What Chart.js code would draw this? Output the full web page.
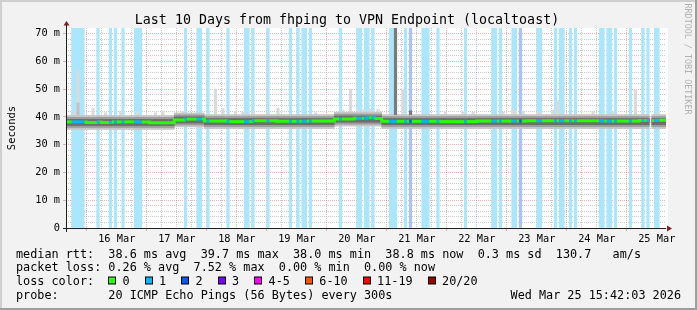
<!DOCTYPE html>
<html>
<head>
<meta charset="utf-8">
<script src="https://cdn.jsdelivr.net/npm/chart.js@4"></script>
<style>
html, body { margin: 0; padding: 0; background: #f2f2f2; }
canvas { display: block; }
</style>
</head>
<body>
<canvas id="graph" width="697" height="310"></canvas>
<script>
const title = 'Last 10 Days from fhping to VPN Endpoint (localtoast)'
const yAxisTitle = 'Seconds'
const watermark = 'RRDTOOL / TOBI OETIKER'

// time axis in hours since 15 Mar 00:00, graph covers 15 Mar 15:42 .. 25 Mar 15:42
const xStart = 15.7
const xEnd = 255.7
const dayLabels = ['16 Mar', '17 Mar', '18 Mar', '19 Mar', '20 Mar', '21 Mar', '22 Mar', '23 Mar', '24 Mar', '25 Mar']
const yTickLabels = ['0', '10 m', '20 m', '30 m', '40 m', '50 m', '60 m', '70 m']
const yMax = 72

// median rtt in ms, as runs (start hour -> value)
const medStart = [15, 24, 28, 30, 34, 49, 59, 63, 71, 80, 90, 100, 112, 123, 131, 136, 139, 142, 165, 180, 200, 230, 245, 252]
const medValue = [38.2, 38.0, 38.2, 38.0, 38.2, 37.9, 38.9, 39.2, 38.5, 38.3, 38.6, 38.4, 38.5, 39.2, 39.5, 39.7, 39.4, 38.4, 38.3, 38.5, 38.6, 38.5, 38.7, 38.8]

// hours with lost pings: start hour, number of hours, pings lost
const lossStart = [18, 28, 33, 35, 38, 43, 63, 68, 72, 80, 87, 90, 96, 105, 108, 110, 113, 125, 132, 135, 138, 145, 151, 153, 158, 164, 175, 186, 189, 194, 197, 204, 211, 213, 217, 219, 229, 232, 235, 241, 246, 248, 251]
const lossLen   = [5, 1, 1, 1, 1, 3, 1, 2, 1, 1, 2, 1, 1, 1, 1, 2, 1, 1, 2, 2, 1, 3, 1, 1, 3, 1, 1, 2, 1, 2, 1, 2, 1, 2, 1, 1, 2, 2, 1, 1, 1, 1, 2]
const lossCount = [1, 1, 1, 1, 1, 1, 1, 1, 1, 1, 1, 1, 1, 1, 1, 1, 1, 1, 1, 1, 1, 1, 1, 2, 1, 1, 1, 1, 1, 1, 2, 1, 1, 1, 1, 1, 1, 1, 1, 1, 1, 1, 1]

// hours without data
const gapHours = [249]

// smoke bands in ms, as runs
const smokeStart   = [15, 59, 71, 123, 142]
const smokeOuterLo = [35.5, 36.4, 35.8, 36.7, 35.8]
const smokeMidLo   = [36.2, 37.1, 36.5, 37.4, 36.5]
const smokeCoreLo  = [36.9, 37.8, 37.2, 38.1, 37.2]
const smokeCoreHi  = [39.1, 40.0, 39.4, 40.3, 39.4]
const smokeMidHi   = [39.8, 40.7, 40.1, 41.0, 40.1]
const smokeOuterHi = [40.5, 41.4, 40.8, 41.7, 40.8]

// single slow pings above the smoke
const spikeHour = [19, 20, 26, 31, 37, 44, 51, 54, 62, 75, 78, 83, 86, 90, 100, 115, 126, 129, 132, 134, 137, 140, 150, 167, 174, 178, 190, 194, 195, 198, 204, 210, 212, 226, 234, 243, 252]
const spikeTop  = [42, 56.5, 43, 41.5, 42, 42, 41.5, 42, 42, 50, 43, 42, 41.8, 41.8, 43.2, 41.5, 42.5, 50, 42.5, 42.5, 42.8, 42.8, 50, 41.8, 41.8, 41.6, 41.8, 42.5, 42.5, 42, 41.8, 42.5, 45.5, 42, 41.8, 49.7, 41.5]
const midSpikeHour = [20]
const midSpikeTop = [45]
const darkSpikeHour = [147, 153]
const darkSpikeTop = [72, 42.2]

// legend
const rttStats = ['38.6 ms avg', '39.7 ms max', '38.0 ms min', '38.8 ms now', '0.3 ms sd', '130.7   am/s']
const lossStats = ['0.26 % avg', '7.52 % max', '0.00 % min', '0.00 % now']
const lossLabels = ['0', '1', '2', '3', '4-5', '6-10', '11-19', '20/20']
const lossColors = ['#26ff00', '#00b8ff', '#0059ff', '#7e00ff', '#ff00ff', '#ff5500', '#ff0000', '#a10000']
const lossBgColors = ['#ffffff', '#aae6fc', '#a9c2fc']
const probeText = '20 ICMP Echo Pings (56 Bytes) every 300s'
const stamp = 'Wed Mar 25 15:42:03 2026'

const GRID = 'rgba(150,150,150,0.5)'
const MGRID = 'rgba(222,79,79,0.45)'
const MONO = '"DejaVu Sans Mono", monospace'

function runValue(starts, values, h) {
    let v = values[0]
    for (let i = 0; i < starts.length; i++) if (h >= starts[i]) v = values[i]
    return v
}

let lossAt = {}
lossStart.forEach((s, i) => {
    for (let k = 0; k < lossLen[i]; k++) lossAt[s + k] = lossCount[i]
})

let hours = []
for (let h = 15; h < 256; h++) hours.push(h)
let dataHours = hours.filter(h => !gapHours.includes(h))

let medianPoints = []
hours.forEach(h => {
    if (gapHours.includes(h)) {
        medianPoints.push({x: h + 0.5, y: null, loss: 0})
        return
    }
    let v = runValue(medStart, medValue, h)
    let l = lossAt[h] || 0
    medianPoints.push({x: h, y: v, loss: l}, {x: h + 1, y: v, loss: l})
})

function band(lo, hi) {
    return dataHours.map(h => ({x: h + 0.5, y: [runValue(smokeStart, lo, h), runValue(smokeStart, hi, h)]}))
}

function spikes(hrs, tops) {
    return hrs.map((h, i) => ({x: h + 0.5, y: [runValue(smokeStart, smokeOuterHi, h), tops[i]]}))
}

let lossBars = Object.keys(lossAt).map(h => ({x: +h + 0.5, y: [0, yMax], loss: lossAt[h]}))

let xTicks = []
for (let h = 18; h <= 252; h += 6) xTicks.push(h)
let yTicks = []
for (let v = 0; v <= 70; v += 2) yTicks.push(v)

const rrdFrame = {
    id: 'rrdFrame',
    beforeDraw(chart) {
        let c = chart.ctx, a = chart.chartArea, W = chart.width, H = chart.height
        c.save()
        c.fillStyle = '#f2f2f2'
        c.fillRect(0, 0, W, H)
        c.fillStyle = '#cfcfcf'
        c.fillRect(0, 0, W, 2)
        c.fillRect(0, 0, 2, H)
        c.fillStyle = '#9e9e9e'
        c.fillRect(0, H - 2, W, 2)
        c.fillRect(W - 2, 0, 2, H)
        c.fillStyle = '#ffffff'
        c.fillRect(a.left, a.top, a.right - a.left + 2, a.bottom - a.top)
        c.restore()
    },
    afterDraw(chart) {
        let c = chart.ctx, a = chart.chartArea
        let x0 = Math.round(a.left), y0 = Math.round(a.bottom)
        c.save()
        // axes
        c.fillStyle = '#1f1f1f'
        c.fillRect(x0, a.top - 4, 1, y0 - a.top + 8)
        c.fillRect(x0 - 3, y0, a.right - x0 + 3, 1)
        c.fillStyle = '#801f1f'
        c.beginPath()
        c.moveTo(x0 - 2.5, a.top - 2.5); c.lineTo(x0 + 3.5, a.top - 2.5); c.lineTo(x0 + 0.5, a.top - 7)
        c.fill()
        c.beginPath()
        c.moveTo(a.right + 1, y0 - 2.5); c.lineTo(a.right + 1, y0 + 3.5); c.lineTo(a.right + 6, y0 + 0.5)
        c.fill()

        // title
        c.fillStyle = '#000'
        c.font = '13.3px ' + MONO
        c.textAlign = 'center'
        c.textBaseline = 'alphabetic'
        c.fillText(title, 347, 24)

        // vertical texts
        c.font = '10.5px ' + MONO
        c.save()
        c.translate(15, (a.top + a.bottom) / 2)
        c.rotate(-Math.PI / 2)
        c.fillText(yAxisTitle, 0, 0)
        c.restore()
        c.fillStyle = '#b0b0b0'
        c.font = '8.4px ' + MONO
        c.save()
        c.translate(685, 59)
        c.rotate(Math.PI / 2)
        c.fillText(watermark, 0, 0)
        c.restore()

        // legend
        c.fillStyle = '#000'
        c.font = '11.8px ' + MONO
        c.textAlign = 'left'
        let cw = c.measureText('0').width
        let lx = 16, vx = 16 + 13 * cw
        let rows = [257.5, 271.3, 285, 298.7]
        c.fillText('median rtt:', lx, rows[0])
        c.fillText(rttStats.join('  '), vx, rows[0])
        c.fillText('packet loss:', lx, rows[1])
        c.fillText(lossStats.join('  '), vx, rows[1])
        c.fillText('loss color:', lx, rows[2])
        let bx = vx
        lossLabels.forEach((lab, i) => {
            c.fillStyle = '#000'
            c.fillRect(Math.round(bx), rows[2] - 8.5, 8, 8)
            c.fillStyle = lossColors[i]
            c.fillRect(Math.round(bx) + 1, rows[2] - 7.5, 6, 6)
            c.fillStyle = '#000'
            let tx = bx + 2 * cw
            c.fillText(lab, tx, rows[2])
            bx = tx + c.measureText(lab).width + 2 * cw + 1
        })
        c.fillText('probe:', lx, rows[3])
        c.fillText(probeText, vx, rows[3])
        c.textAlign = 'right'
        c.fillText(stamp, 681, rows[3])
        c.restore()
    }
}

const barOpts = {type: 'bar', grouped: false, barPercentage: 1, categoryPercentage: 1, borderWidth: 0}

new Chart(document.getElementById('graph').getContext('2d'), {
    type: 'bar',
    data: {
        datasets: [
            {
                type: 'line',
                label: 'median',
                data: medianPoints,
                borderColor: lossColors[0],
                borderWidth: 3,
                pointRadius: 0,
                tension: 0,
                spanGaps: false,
                borderCapStyle: 'butt',
                segment: {
                    borderColor: ctx => lossColors[medianPoints[ctx.p0DataIndex].loss]
                },
                order: 0
            },
            {...barOpts, label: 'darkspikes', data: spikes(darkSpikeHour, darkSpikeTop), backgroundColor: '#7a7a7a', order: 1},
            {...barOpts, label: 'core', data: band(smokeCoreLo, smokeCoreHi), backgroundColor: '#6e6e6e', order: 2},
            {...barOpts, label: 'mid', data: band(smokeMidLo, smokeMidHi), backgroundColor: '#9c9c9c', order: 3},
            {...barOpts, label: 'outer', data: band(smokeOuterLo, smokeOuterHi), backgroundColor: '#c6c6c6', order: 4},
            {...barOpts, label: 'midspikes', data: spikes(midSpikeHour, midSpikeTop), backgroundColor: '#c2c2c2', order: 5},
            {...barOpts, label: 'spikes', data: spikes(spikeHour, spikeTop), backgroundColor: '#dadada', order: 6},
            {...barOpts, label: 'loss', data: lossBars, backgroundColor: ctx => lossBgColors[ctx.raw ? ctx.raw.loss : 1], order: 7}
        ]
    },
    options: {
        responsive: false,
        animation: false,
        events: [],
        layout: {padding: {left: 0, top: 28, right: 31, bottom: 0}},
        plugins: {legend: {display: false}, tooltip: {enabled: false}},
        scales: {
            x: {
                type: 'linear',
                min: xStart,
                max: xEnd,
                offset: false,
                afterFit: s => { s.height = 82 },
                afterBuildTicks: s => { s.ticks = xTicks.map(v => ({value: v})) },
                grid: {
                    offset: false,
                    color: ctx => ctx.tick && ctx.tick.value % 24 === 0 ? MGRID : GRID,
                    tickColor: ctx => ctx.tick && ctx.tick.value % 24 === 0 ? MGRID : 'rgba(0,0,0,0)',
                    tickLength: 3
                },
                border: {display: false, dash: [1, 1]},
                ticks: {
                    autoSkip: false,
                    maxRotation: 0,
                    minRotation: 0,
                    padding: 2,
                    color: '#000',
                    font: {family: MONO, size: 10.3},
                    callback: v => v % 24 === 12 ? dayLabels[(v - 12) / 24 - 1] : ''
                }
            },
            y: {
                min: 0,
                max: yMax,
                afterFit: s => { s.width = 66 },
                afterBuildTicks: s => { s.ticks = yTicks.map(v => ({value: v})) },
                grid: {
                    color: ctx => ctx.tick && ctx.tick.value % 10 === 0 ? MGRID : GRID,
                    tickColor: ctx => ctx.tick && ctx.tick.value % 10 === 0 ? MGRID : 'rgba(0,0,0,0)',
                    tickLength: 3
                },
                border: {display: false, dash: [1, 1]},
                ticks: {
                    autoSkip: false,
                    padding: 3,
                    color: '#000',
                    font: {family: MONO, size: 10.3},
                    callback: v => v % 10 === 0 ? yTickLabels[v / 10] : ''
                }
            }
        }
    },
    plugins: [rrdFrame]
})
</script>
</body>
</html>
